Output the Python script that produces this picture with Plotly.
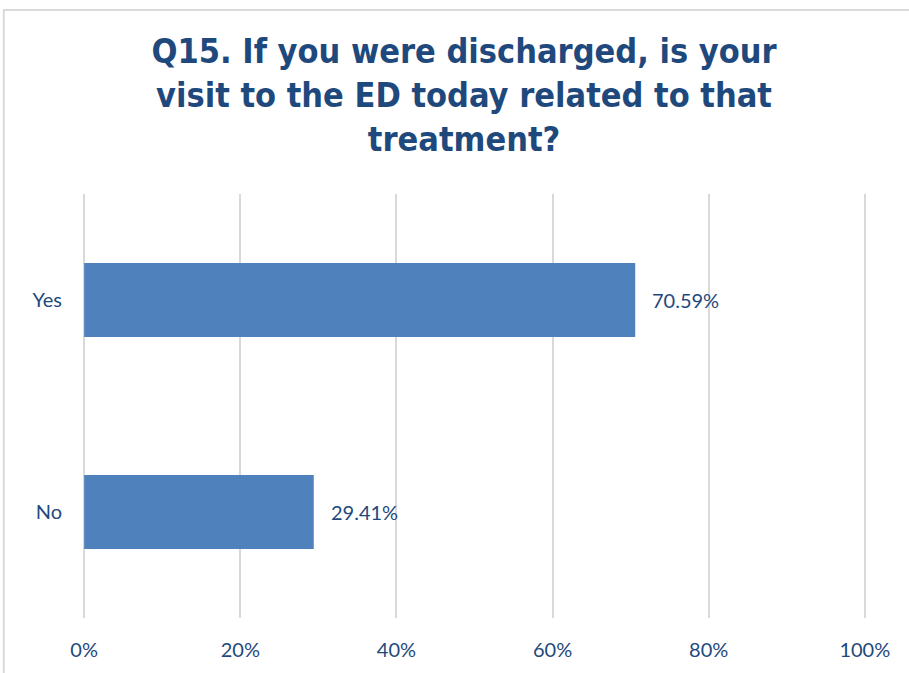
import plotly.graph_objects as go

# Survey responses (share of respondents)
categories = ["No", "Yes"]
values = [0.2941, 0.7059]
labels = ["29.41%", "70.59%"]
tick_vals = [0, 0.2, 0.4, 0.6, 0.8, 1.0]
tick_text = ["0%", "20%", "40%", "60%", "80%", "100%"]

title_text = ("Q15. If you were discharged, is your<br>"
              "visit to the ED today related to that<br>treatment?")

text_color = "#1F497D"
bar_color = "#4F81BD"
grid_color = "#D9D9D9"
label_font = dict(family="Lato, DejaVu Sans", size=20, color=text_color)

fig = go.Figure(
    go.Bar(
        x=values,
        y=categories,
        orientation="h",
        marker=dict(color=bar_color, line=dict(width=0)),
        width=0.35,
        hoverinfo="skip",
    )
)

# value labels to the right of each bar
for cat, val, lab in zip(categories, values, labels):
    fig.add_annotation(
        x=val, y=cat, text=lab, showarrow=False,
        xanchor="left", xshift=15,
        font=label_font,
    )

# light outer frame of the chart area
fig.add_shape(
    type="rect", xref="paper", yref="paper",
    x0=-0.1012, x1=1.2, y0=-0.3, y1=1.434,
    line=dict(color=grid_color, width=2), fillcolor="rgba(0,0,0,0)",
    layer="below",
)

fig.update_layout(
    width=909, height=673,
    margin=dict(l=83, r=43, t=194, b=55),
    paper_bgcolor="white", plot_bgcolor="white",
    showlegend=False,
    title=dict(
        text=title_text,
        x=0.5105, xanchor="center",
        y=1 - 63 / 673, yanchor="top", yref="container",
        font=dict(family="DejaVu Sans Condensed, Lato", size=34, color=text_color, weight="bold"),
    ),
    xaxis=dict(
        range=[-0.0015, 1.0015], tickvals=tick_vals, ticktext=tick_text,
        showgrid=True, gridcolor=grid_color, gridwidth=2,
        zeroline=False, showline=False, ticks="",
        ticklabelstandoff=18,
        tickfont=label_font,
        fixedrange=True,
    ),
    yaxis=dict(
        showgrid=False, zeroline=False, showline=False, ticks="",
        ticklabelstandoff=20,
        tickfont=label_font,
        fixedrange=True,
    ),
)

fig.write_html("out.html")
